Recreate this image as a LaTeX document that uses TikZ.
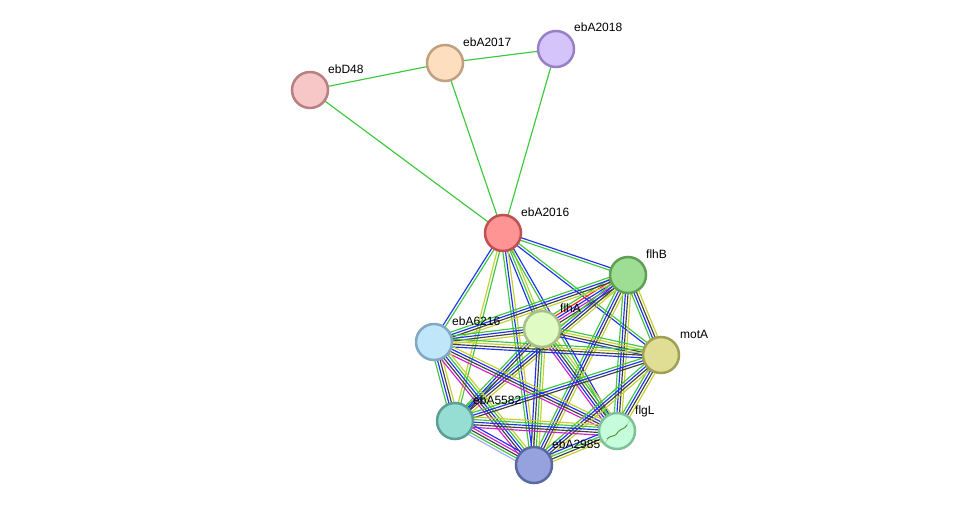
\documentclass[tikz,border=0pt]{standalone}
\usepackage{fontspec}
\setmainfont{Liberation Sans}
\usetikzlibrary{calc,backgrounds}
\definecolor{sgreen}{HTML}{3CC83C}
\definecolor{sblue}{HTML}{2030F0}
\definecolor{syellow}{HTML}{C4D030}
\definecolor{sblack}{HTML}{404040}
\definecolor{smag}{HTML}{D020D0}
\definecolor{sred}{HTML}{FF2020}
\definecolor{slav}{HTML}{A8A8FF}
\definecolor{squig}{RGB}{90,140,40}
\definecolor{squigl}{RGB}{150,200,120}
\tikzset{
  prot/.style={circle, minimum size=36pt, inner sep=0pt, line width=2.5pt},
  lab/.style={anchor=base west, inner sep=0pt, font=\fontsize{12}{14}\selectfont},
  ln/.style={line width=1.15pt},
}
\newcommand\sedge[4]{%
  \foreach \ecol [count=\ei] in {#4} {%
    \pgfmathsetmacro\eoff{(\ei-(#3+1)/2)*2.6}%
    \draw[ln,color=\ecol] ($(#1)!\eoff pt!90:(#2)$) -- ($(#2)!\eoff pt!-90:(#1)$);
  }}
\begin{document}
\begin{tikzpicture}[x=1pt,y=-1pt]
\useasboundingbox (0,0) rectangle (976,511);
% nodes
\node[prot, fill={rgb,255:red,247;green,198;blue,198}, draw={rgb,255:red,184;green,128;blue,128}] (ebD48) at (310,90) {};
\node[prot, fill={rgb,255:red,253;green,223;blue,192}, draw={rgb,255:red,192;green,160;blue,128}] (ebA2017) at (445,63) {};
\node[prot, fill={rgb,255:red,212;green,196;blue,250}, draw={rgb,255:red,152;green,128;blue,200}] (ebA2018) at (556,49) {};
\node[prot, fill={rgb,255:red,255;green,148;blue,148}, draw={rgb,255:red,192;green,80;blue,80}] (ebA2016) at (503,233) {};
\node[prot, fill={rgb,255:red,158;green,222;blue,148}, draw={rgb,255:red,95;green,160;blue,85}] (flhB) at (628,275) {};
\node[prot, fill={rgb,255:red,224;green,252;blue,196}, draw={rgb,255:red,168;green,192;blue,136}] (flhA) at (542,329) {};
\node[prot, fill={rgb,255:red,192;green,230;blue,250}, draw={rgb,255:red,128;green,168;blue,192}] (ebA6216) at (434,342) {};
\node[prot, fill={rgb,255:red,224;green,222;blue,148}, draw={rgb,255:red,160;green,160;blue,85}] (motA) at (661,355) {};
\node[prot, fill={rgb,255:red,150;green,222;blue,212}, draw={rgb,255:red,90;green,158;blue,148}] (ebA5582) at (455,421) {};
\node[prot, fill={rgb,255:red,196;green,252;blue,220}, draw={rgb,255:red,128;green,192;blue,152}] (flgL) at (617,431) {};
\node[prot, fill={rgb,255:red,150;green,162;blue,222}, draw={rgb,255:red,90;green,104;blue,160}] (ebA2985) at (534,465) {};
% squiggle inside flgL
\draw[line width=0.9pt, color=squig] (607,439) .. controls (612,434) and (615,438) .. (618,432) .. controls (621,428) and (624,430) .. (627,425);
\draw[line width=0.4pt, color=squigl] (604,444) -- (608,439) (627,425) -- (630,420);
% labels
\node[lab] (lD48) at (328,73) {ebD48};
\node[lab] (l2017) at (463,46) {ebA2017};
\node[lab] (l2018) at (574,32) {ebA2018};
\node[lab] (l2016) at (521,216) {ebA2016};
\node[lab] (lflhB) at (646,258) {flhB};
\node[lab] (lflhA) at (560,312) {flhA};
\node[lab] (l6216) at (452,325) {ebA6216};
\node[lab] (lmotA) at (680,338) {motA};
\node[lab] (l5582) at (473,404) {ebA5582};
\node[lab] (lflgL) at (635,414) {flgL};
\node[lab] (l2985) at (552,448) {ebA2985};
\begin{pgfonlayer}{background}
\fill[white] (0,0) rectangle (976,511);
% top edges
\sedge{ebD48}{ebA2017}{1}{sgreen}
\sedge{ebA2017}{ebA2018}{1}{sgreen}
\sedge{ebD48}{ebA2016}{1}{sgreen}
\sedge{ebA2017}{ebA2016}{1}{sgreen}
\sedge{ebA2018}{ebA2016}{1}{sgreen}
% ebA2016 to cluster
\sedge{ebA2016}{flhB}{2}{sgreen,sblue}
\sedge{ebA2016}{ebA6216}{2}{sblue,sgreen}
\sedge{ebA2016}{flhA}{3}{sblue,sgreen,syellow}
\sedge{ebA2016}{motA}{2}{sblue,sgreen}
\sedge{ebA2016}{ebA5582}{2}{syellow,sgreen}
\sedge{ebA2016}{flgL}{2}{sgreen,sblue}
\sedge{ebA2016}{ebA2985}{3}{sgreen,sblue,syellow}
% cluster
\sedge{flhB}{flhA}{6}{sgreen,sred,sblue,smag,sblack,syellow}
\sedge{flhB}{ebA6216}{4}{sgreen,sblue,sblack,syellow}
\sedge{flhB}{motA}{4}{sgreen,sblue,sblack,syellow}
\sedge{flhB}{flgL}{4}{sgreen,sblue,sblack,syellow}
\sedge{flhB}{ebA2985}{4}{sgreen,sblue,sblack,syellow}
\sedge{flhB}{ebA5582}{4}{sgreen,sblue,sblack,syellow}
\sedge{flhA}{ebA6216}{4}{sgreen,sblue,sblack,syellow}
\sedge{flhA}{motA}{4}{sblue,sblack,syellow,sgreen}
\sedge{flhA}{ebA5582}{3}{sgreen,sblue,sblack}
\sedge{flhA}{flgL}{5}{smag,sblue,sblack,sgreen,syellow}
\sedge{flhA}{ebA2985}{4}{sblue,sblack,sgreen,syellow}
\sedge{ebA6216}{motA}{4}{sblue,sblack,syellow,sgreen}
\sedge{ebA6216}{ebA5582}{4}{sgreen,sblue,sblack,syellow}
\sedge{ebA6216}{flgL}{4}{smag,sblack,sblue,syellow}
\sedge{ebA6216}{ebA2985}{5}{smag,sblack,sblue,sgreen,syellow}
\sedge{motA}{ebA5582}{3}{sgreen,sblue,sblack}
\sedge{motA}{flgL}{4}{sgreen,sblue,sblack,syellow}
\sedge{motA}{ebA2985}{4}{sgreen,sblue,sblack,syellow}
\sedge{ebA5582}{flgL}{5}{smag,sblack,sblue,sgreen,syellow}
\sedge{ebA5582}{ebA2985}{5}{slav,sgreen,sblack,smag,sblue}
\sedge{flgL}{ebA2985}{4}{sblue,sgreen,sblack,syellow}
\end{pgfonlayer}
\end{tikzpicture}
\end{document}
